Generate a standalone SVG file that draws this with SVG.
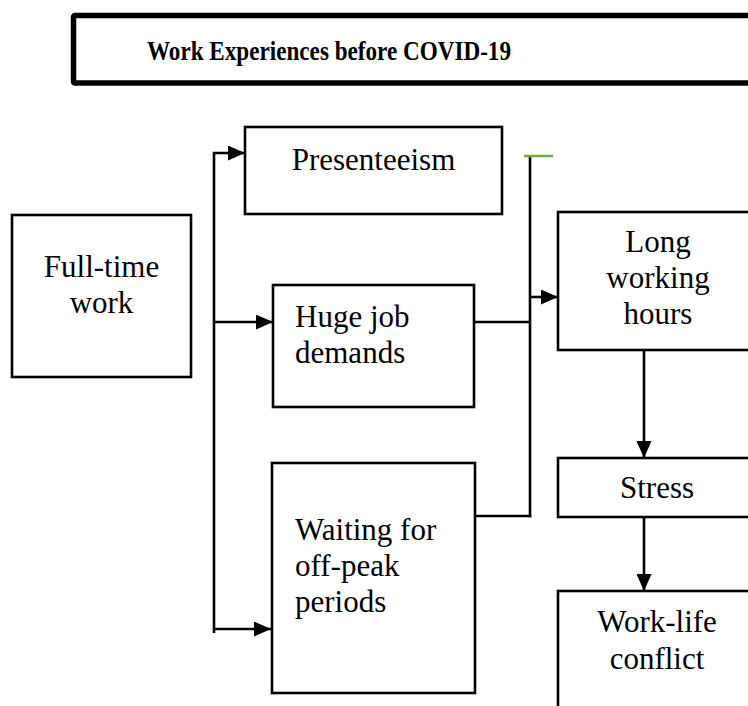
<svg xmlns="http://www.w3.org/2000/svg" width="748" height="706" viewBox="0 0 748 706">
<style>
.box{fill:#fff;stroke:#000;stroke-width:2.6}
.t{font-family:"Liberation Serif","Times New Roman",serif;font-size:31px;fill:#000}
.c{text-anchor:middle}
.ln{fill:none;stroke:#000;stroke-width:2.6}
</style>
<defs>
<marker id="ah" markerUnits="userSpaceOnUse" markerWidth="17" markerHeight="15" refX="17" refY="7.5" orient="auto">
<path d="M0,0 L17,7.5 L0,15 z" fill="#000"/>
</marker>
</defs>
<rect width="748" height="706" fill="#fff"/>
<g id="title">
<rect x="73.5" y="15.5" width="720" height="67.5" rx="1.5" fill="#fff" stroke="#000" stroke-width="5.5"/>
<text x="329" y="60" font-family="Liberation Serif,'Times New Roman',serif" font-size="27" font-weight="bold" text-anchor="middle" textLength="364" lengthAdjust="spacingAndGlyphs">Work Experiences before COVID-19</text>
</g>
<g id="connectors">
<polyline class="ln" points="214,633 214,153 245,153" marker-end="url(#ah)"/>
<line class="ln" x1="214" y1="322" x2="273" y2="322" marker-end="url(#ah)"/>
<line class="ln" x1="214" y1="629" x2="271" y2="629" marker-end="url(#ah)"/>
<line class="ln" x1="530" y1="156" x2="530" y2="517.3"/>
<line x1="524" y1="156" x2="553" y2="156" stroke="#70AD47" stroke-width="2.6"/>
<line class="ln" x1="474" y1="322" x2="530" y2="322"/>
<line class="ln" x1="475" y1="516" x2="531.3" y2="516"/>
<line class="ln" x1="530" y1="297" x2="558" y2="297" marker-end="url(#ah)"/>
<line class="ln" x1="644" y1="350" x2="644" y2="458" marker-end="url(#ah)"/>
<line class="ln" x1="644" y1="517" x2="644" y2="591" marker-end="url(#ah)"/>
</g>
<g id="fulltime">
<rect class="box" x="12" y="215" width="179" height="162"/>
<text class="t c" x="101.5" y="277">Full-time</text>
<text class="t c" x="101.5" y="313">work</text>
</g>
<g id="presenteeism">
<rect class="box" x="245" y="127" width="257" height="87"/>
<text class="t c" x="373.5" y="170">Presenteeism</text>
</g>
<g id="hugejob">
<rect class="box" x="273" y="285" width="201" height="122"/>
<text class="t" x="295" y="327">Huge job</text>
<text class="t" x="295" y="363">demands</text>
</g>
<g id="waiting">
<rect class="box" x="272" y="463" width="203" height="230"/>
<text class="t" x="295" y="540">Waiting for</text>
<text class="t" x="295" y="576">off-peak</text>
<text class="t" x="295" y="612">periods</text>
</g>
<g id="longhours">
<rect class="box" x="558" y="212" width="220" height="138"/>
<text class="t c" x="658" y="252">Long</text>
<text class="t c" x="658" y="288">working</text>
<text class="t c" x="658" y="324">hours</text>
</g>
<g id="stress">
<rect class="box" x="558" y="458" width="220" height="59"/>
<text class="t c" x="657" y="498">Stress</text>
</g>
<g id="worklife">
<rect class="box" x="558" y="591" width="220" height="140"/>
<text class="t c" x="657" y="632">Work-life</text>
<text class="t c" x="657" y="669">conflict</text>
</g>
</svg>
